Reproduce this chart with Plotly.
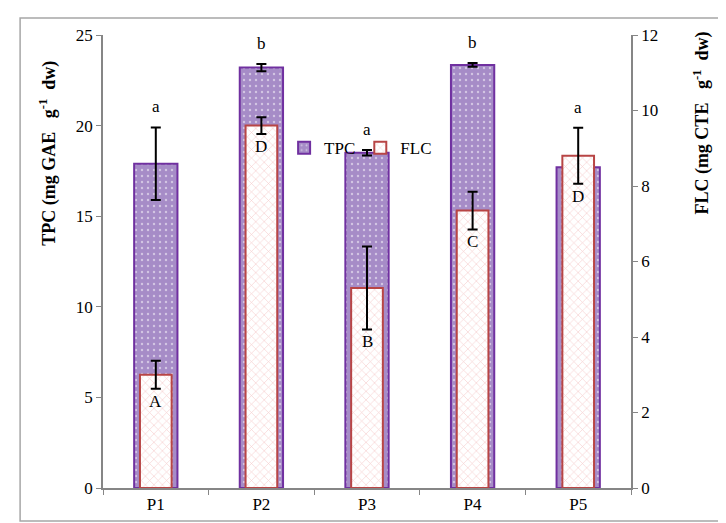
import plotly.graph_objects as go

categories = ["P1", "P2", "P3", "P4", "P5"]
tpc = [17.9, 23.2, 18.5, 23.35, 17.7]
tpc_err = [2.0, 0.2, 0.15, 0.1, 0.0]
flc = [3.0, 9.6, 5.3, 7.35, 8.8]
flc_err = [0.37, 0.22, 1.1, 0.5, 0.74]
tpc_letters = ["a", "b", "a", "b", "a"]
flc_letters = ["A", "D", "B", "C", "D"]
left_ticks = [0, 5, 10, 15, 20, 25]
right_ticks = [0, 2, 4, 6, 8, 10, 12]

FONT = "Liberation Serif"
AXIS_GRAY = "#868686"
SP = "\u00a0"

fig = go.Figure()
fig.add_trace(go.Bar(
    x=categories, y=tpc, name="TPC", yaxis="y",
    width=0.41, offset=-0.205,
    marker=dict(color="#a68cc7", line=dict(color="#7030a0", width=2),
                pattern=dict(shape=".", fgcolor="white", size=6, solidity=0.12)),
    error_y=dict(type="data", array=tpc_err, color="black", thickness=2, width=5),
))
fig.add_trace(go.Bar(
    x=categories, y=flc, name="FLC", yaxis="y2",
    width=0.30, offset=-0.15,
    marker=dict(color="white", line=dict(color="#b84545", width=2),
                pattern=dict(shape="x", fgcolor="#ec9c9c", bgcolor="white", size=6, solidity=0.2)),
    error_y=dict(type="data", array=flc_err, color="black", thickness=2, width=5),
))

ratio = 25 / 12
annotations = []
for i, c in enumerate(categories):
    top = max(tpc[i] + tpc_err[i], (flc[i] + flc_err[i]) * ratio)
    annotations.append(dict(x=c, y=top, xref="x", yref="y", text=tpc_letters[i],
                            showarrow=False, yanchor="bottom", yshift=9,
                            font=dict(family=FONT, size=17, color="black")))
    annotations.append(dict(x=c, y=flc[i] - flc_err[i], xref="x", yref="y2", text=flc_letters[i],
                            showarrow=False, yanchor="top", yshift=-1,
                            font=dict(family=FONT, size=17, color="black")))

left_title = "<b>TPC (mg" + SP + "GAE" + SP * 3 + "g<sup>-1</sup>" + SP * 2 + "dw)</b>"
right_title = "<b>FLC (mg" + SP + "CTE" + SP * 3 + "g<sup>-1</sup>" + SP * 2 + "dw)</b>"
annotations.append(dict(x=-0.104, y=0.738, xref="paper", yref="paper", textangle=-90,
                        xanchor="center", yanchor="middle", text=left_title, showarrow=False,
                        font=dict(family=FONT, size=18, color="black")))
annotations.append(dict(x=1.135, y=0.805, xref="paper", yref="paper", textangle=-90,
                        xanchor="center", yanchor="middle", text=right_title, showarrow=False,
                        font=dict(family=FONT, size=18, color="black")))

fig.update_layout(
    width=726, height=523,
    margin=dict(l=95, r=103, t=27, b=43),
    paper_bgcolor="white", plot_bgcolor="white",
    font=dict(family=FONT, size=17, color="black"),
    barmode="overlay",
    showlegend=True,
    legend=dict(orientation="h", x=0.343, y=0.79, xanchor="left", yanchor="top",
                font=dict(family=FONT, size=17), bgcolor="rgba(0,0,0,0)",
                itemwidth=30, tracegroupgap=0),
    xaxis=dict(showline=True, linecolor=AXIS_GRAY, linewidth=1.5, ticks="outside",
               tickson="boundaries", ticklen=5, tickcolor=AXIS_GRAY, showgrid=False,
               tickfont=dict(family=FONT, size=17)),
    yaxis=dict(range=[0, 25], tickvals=left_ticks, showline=True, linecolor=AXIS_GRAY,
               linewidth=1.5, ticks="outside", ticklen=5, tickcolor=AXIS_GRAY,
               showgrid=False, zeroline=False, tickfont=dict(family=FONT, size=17)),
    yaxis2=dict(range=[0, 12], tickvals=right_ticks, overlaying="y", side="right",
                showline=True, linecolor=AXIS_GRAY, linewidth=1.5, ticks="outside",
                ticklen=5, tickcolor=AXIS_GRAY, showgrid=False, zeroline=False,
                tickfont=dict(family=FONT, size=17)),
    annotations=annotations,
    shapes=[dict(type="rect", xref="paper", yref="paper",
                 x0=-0.157, x1=1.172, y0=-0.0728, y1=1.0375,
                 line=dict(color="#a6a6a6", width=1.5), fillcolor="rgba(0,0,0,0)")],
)

fig.write_html("out.html")
